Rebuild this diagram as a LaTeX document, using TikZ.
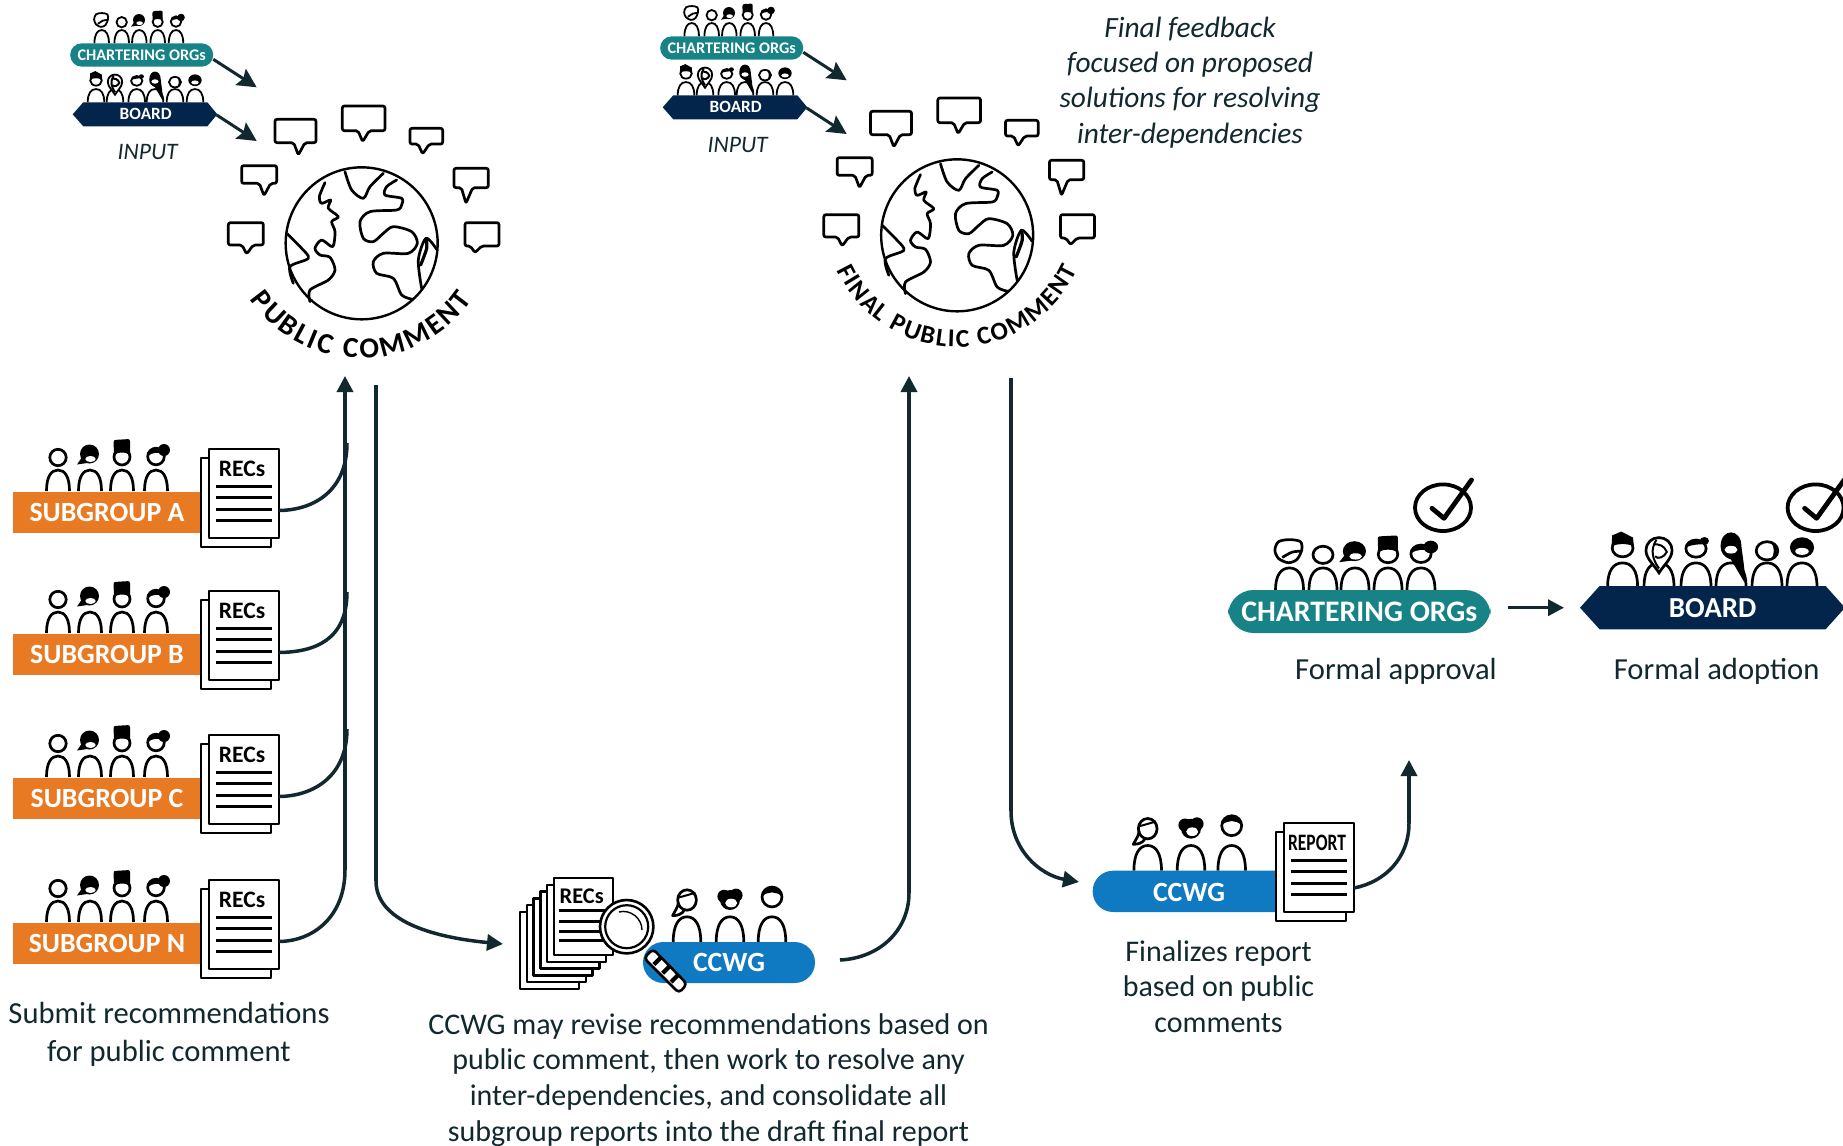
\documentclass[tikz,border=0pt]{standalone}
\usepackage{fontspec}
\usepackage{graphicx}
\setmainfont{Carlito}
\usetikzlibrary{arrows.meta,decorations.text,calc}
\definecolor{ink2}{HTML}{12282F}
\definecolor{subor}{HTML}{E87A24}
\definecolor{chart}{HTML}{178387}
\definecolor{boardc}{HTML}{03254C}
\definecolor{ccwgc}{HTML}{0F7AC1}
\tikzset{
  ink/.style={draw=black,line width=1.35pt,fill=white},
  flow/.style={draw=ink2,line width=1.75pt},
  flowar/.style={flow,-{Triangle[length=8pt,width=8pt]}},
  diag/.style={draw=ink2,line width=1.5pt,-{Stealth[length=9.5pt,width=9.5pt,inset=1.5pt]}},
  capt/.style={text=ink2,align=center,inner sep=0pt,font=\fontsize{15}{17.9}\selectfont},
  barlabel/.style={text=white,inner sep=0pt,font=\bfseries\fontsize{13.9}{15}\selectfont},
  sheet/.style={draw=black,line width=1.15pt,fill=white,line join=round},
  docrule/.style={draw=black,line width=1.5pt},
  globeline/.style={draw=black,line width=1.35pt,line cap=round,line join=round},
}
\newcommand\hplain{\draw[ink] (0,-33.5) circle (8.2);}
\newcommand\hbob{\fill (-.5,-37) circle (9.5); \fill (-5,-38) -- (-13,-26.5) -- (4,-29) -- cycle; \fill[white] (0.5,-32) ellipse [x radius=5.2,y radius=3];}
\newcommand\hhat{\draw[ink] (0,-34) circle (8); \fill[rounded corners=1pt] (-8,-36) -- (-8.5,-51) -- (8,-52) -- (8,-36) .. controls (3,-39) and (-3,-39) .. (-8,-36) -- cycle;}
\newcommand\hcurl{\draw[ink] (0,-34.5) circle (8.3); \fill (-8.3,-35) .. controls (-7,-45) and (5,-46) .. (8.3,-37) .. controls (3,-39) and (-3,-39) .. (-8.3,-35) -- cycle; \fill (8,-41) circle (6);}
\newcommand\hfluff{\draw[ink,smooth] plot[smooth cycle] coordinates {(-12,-38) (-9,-46) (0,-48) (9,-46) (10,-38) (6,-29) (-1,-26) (-9,-30)}; \draw[ink,fill=none] plot[smooth] coordinates {(-6,-31) (2,-36) (9,-37)};}
\newcommand\hoval{\draw[ink] (-10,-32) .. controls (-10,-48) and (10,-48) .. (10,-32) .. controls (10,-25) and (3,-18) .. (0,-12) .. controls (-3,-18) and (-10,-25) .. (-10,-32) -- cycle; \draw[line width=1pt] (-2,-42) .. controls (-7,-33) and (-5,-24) .. (0,-16); \draw[line width=1pt] (-4,-38) .. controls (0,-38) and (4,-37) .. (6,-31) .. controls (4,-26) and (-1,-24) .. (-3,-27);}
\newcommand\hlong{\fill (-8,-36) .. controls (-8,-53) and (8,-53) .. (8,-36) .. controls (9,-26) and (11,-14) .. (10.5,-3) .. controls (6,-12) and (3,-18) .. (0,-24) .. controls (-5,-26) and (-8,-30) .. (-8,-36) -- cycle; \fill[white] (0,-33) ellipse [x radius=5,y radius=3.5];}
\newcommand\hdark{\draw[ink] (0,-34.5) circle (8); \fill (-8.5,-36) -- (-8,-46) -- (-1,-49.5) -- (8,-44) -- (8.7,-36) .. controls (3,-39) and (-3,-39) .. (-8.5,-36) -- cycle;}
\newcommand\hhalf{\draw[ink] (0,-32) circle (8.3); \fill (3,-40) .. controls (9,-37) and (9,-27) .. (3,-24) .. controls (6,-29) and (6,-35) .. (3,-40) -- cycle;}
\newcommand\htop{\fill (0,-35) circle (9.3); \fill[white] (0,-31.5) ellipse [x radius=5.2,y radius=3.2];}
\newcommand\hcurlb{\draw[ink] (0,-34) circle (7.8); \fill (-8,-35) .. controls (-7,-43) and (5,-43) .. (8,-38) .. controls (3,-38) and (-3,-38) .. (-8,-35) -- cycle; \fill (6.5,-41) circle (3.5);}
\newcommand\hwoman{\draw[ink] (0,-35) ellipse [x radius=7.8,y radius=8.5]; \draw[ink,fill=none,line join=round] (-7,-33) .. controls (-8,-28) and (-10,-26) .. (-12,-22) .. controls (-8,-22) and (-4,-23) .. (-2,-27); \draw[line width=1pt] (-7.5,-37) .. controls (-3,-38) and (3,-40) .. (7,-41);}
\newcommand\hmess{\fill (0,-35) circle (8.3); \fill (-5,-38) circle (5.5); \fill (5,-39) circle (5.5); \fill[white] (1,-32.5) ellipse [x radius=5,y radius=3.6];}
\newcommand\hboy{\draw[ink] (0,-37.5) circle (8.3); \fill (-8.3,-38) .. controls (-7,-48.5) and (7,-48.5) .. (8.3,-38) .. controls (3,-42.5) and (-3,-42.5) .. (-8.3,-38) -- cycle;}
% x, base y, scale keys, head
\newcommand\person[4]{\begin{scope}[shift={(#1,#2)},#3]
  \draw[ink,fill=none] (-11.5,0) .. controls (-11.5,-14) and (-7,-21) .. (0,-21) .. controls (7,-21) and (11.5,-14) .. (11.5,0);
  #4
\end{scope}}
% front sheet top-left x,y, label
\newcommand\docsheet[3]{
  \draw[sheet] (#1-8,#2+9) rectangle (#1+62,#2+98);
  \draw[sheet] (#1,#2) rectangle (#1+70,#2+89);
  \node[inner sep=0pt,font=\bfseries\fontsize{11.8}{12}\selectfont] at (#1+33,#2+19.5) {#3};
  \foreach \ly in {37,48,60,71} \draw[docrule] (#1+7,#2+\ly) -- (#1+63,#2+\ly);
}
\newcommand\bubble[6]{\draw[globeline,rounded corners=1pt,fill=white] (#1,#2) -- (#3,#2) -- (#3,#4) -- (#5+20,#4) -- (#5,#6) -- (#5-14,#4) -- (#1,#4) -- cycle;}
\newcommand\globe[2]{\begin{scope}[shift={(#1,#2)},scale=0.33333]
  \bubble{685}{668}{790}{735}{740}{762}
  \bubble{725}{497}{830}{550}{792}{587}
  \bubble{825}{358}{948}{428}{895}{465}
  \bubble{1027}{318}{1155}{392}{1088}{425}
  \bubble{1230}{385}{1328}{432}{1268}{462}
  \bubble{1362}{505}{1465}{563}{1398}{610}
  \bubble{1395}{668}{1497}{738}{1425}{758}
  \draw[globeline,fill=white,line width=1.2pt] (1085,730) circle (228);
  \draw[globeline] plot[smooth] coordinates {(975,548) (958,590) (965,610) (992,600) (985,625) (1015,650) (995,665) (1005,695) (998,740) (965,720) (945,745) (960,765) (990,772) (1005,810) (985,840) (930,870) (930,905)};
  \draw[globeline] plot[smooth] coordinates {(860,700) (905,745) (925,775) (870,800) (880,850)};
  \draw[globeline] plot[smooth] coordinates {(1035,515) (1055,570) (1090,595) (1110,560) (1150,520)};
  \draw[globeline] plot[smooth] coordinates {(1190,540) (1160,560) (1155,585) (1205,595) (1205,615) (1190,630) (1110,635) (1080,665) (1090,715) (1120,725) (1150,700) (1180,680) (1235,695) (1252,730) (1225,760) (1150,760) (1120,785) (1130,820) (1180,835) (1205,885) (1238,898)};
  \draw[globeline] plot[smooth] coordinates {(1310,748) (1278,715) (1255,780) (1265,865)};
  \draw[globeline,line width=1.6pt] plot[smooth] coordinates {(1278,715) (1280,745) (1262,795)};
\end{scope}}
% small input group: offset x,y
\newcommand\inputgroup[2]{\begin{scope}[shift={(#1,#2)}]
 \begin{scope}[ink/.style={draw=black,line width=.9pt,fill=white}]
  \person{101.7}{43.3}{scale=.63}{\hfluff}\person{121.7}{43.3}{scale=.63}{\hplain}\person{139.3}{43.3}{scale=.63}{\hbob}\person{157.7}{43.3}{scale=.63}{\hhat}\person{176}{43.3}{scale=.63}{\hcurl}
  \person{96}{102.3}{xscale=.72,yscale=.63}{\hdark}\person{115}{102.3}{xscale=.72,yscale=.63}{\hoval}\person{136.7}{102.3}{xscale=.72,yscale=.63}{\hcurlb}\person{155}{102.3}{xscale=.72,yscale=.63}{\hlong}\person{175}{102.3}{xscale=.72,yscale=.63}{\hhalf}\person{195}{102.3}{xscale=.72,yscale=.63}{\htop}
 \end{scope}
 \node[fill=chart,rounded corners=5.8pt,minimum width=71.5pt,minimum height=11.7pt,inner sep=0pt,text=white,font=\bfseries\fontsize{8.1}{9}\selectfont] at (141.7,55) {CHARTERING ORGs};
 \fill[boardc] (72.7,114.3) -- (83.3,102.3) -- (207.3,102.3) -- (217.3,114.3) -- (207.3,126.3) -- (83.3,126.3) -- cycle;
 \node[text=white,inner sep=0pt,font=\bfseries\fontsize{8.6}{9}\selectfont] at (145.7,114.3) {BOARD};
 \node[text=ink2,inner sep=0pt,font=\itshape\fontsize{11.8}{13}\selectfont] at (147.7,152.3) {INPUT};
 \draw[diag] (213.3,59.3) -- (256.7,87.3);
 \draw[diag] (216.7,115) -- (256.7,141);
\end{scope}}
\newcommand\subgroup[3]{% name suffix, bar top, label
  \person{58}{#2}{scale=1}{\hplain}\person{90}{#2}{scale=1}{\hbob}\person{122}{#2}{scale=1}{\hhat}\person{156}{#2}{scale=1}{\hcurl}
  \node[fill=subor,minimum width=94.5pt,minimum height=20.5pt,inner sep=0pt,barlabel] (sub#1) at (107,#2+21) {#3};
  \docsheet{209}{#2-42}{RECs}
  \coordinate (doc#1) at (279,#2+19.5);
}
\newcommand\okmark[1]{\begin{scope}[shift={(#1,0)}]
  \draw[draw=black,line width=1.9pt] (0,507.7) ellipse [x radius=28,y radius=23.3];
  \draw[draw=black,line width=2.4pt,line cap=round,line join=round] (-11,508.3) -- (1,518.3) -- (28.5,480);
\end{scope}}
\begin{document}
\begin{tikzpicture}[x=0.5pt,y=-0.5pt]
\useasboundingbox (0,0) rectangle (1843,1146);
\clip (0,0) rectangle (1843,1146);
\fill[white] (0,0) rectangle (1843,1146);

% input groups and globes
\inputgroup{0}{0}
\inputgroup{590}{-7}
\globe{0}{0}
\globe{595.5}{-8}
\path[decorate,decoration={text along path,text align={fit to path},text={|\bfseries\fontsize{14.5}{15}\selectfont|PUBLIC COMMENT}}]
  plot[domain=145.3:34.7,samples=60] ({361+135*cos(\x)},{223+135*sin(\x)});
\path[decorate,decoration={text along path,text align={fit to path},text={|\bfseries\fontsize{12.8}{14}\selectfont|FINAL PUBLIC COMMENT}}]
  plot[domain=155.4:24.6,samples=70] ({957+132*cos(\x)},{215+132*sin(\x)});

\node[capt,font=\itshape\fontsize{14.7}{17.6}\selectfont] (note) at (1190,82.5) {Final feedback\\focused on proposed\\solutions for resolving\\inter-dependencies};

% subgroups
\subgroup{A}{491}{SUBGROUP A}
\subgroup{B}{633}{SUBGROUP B}
\subgroup{C}{777}{SUBGROUP C}
\subgroup{N}{922}{SUBGROUP N}
\node[capt,font=\fontsize{15.3}{18.8}\selectfont] (subcap) at (169,1034.5) {Submit recommendations\\for public comment};

% flows on the left
\coordinate (spinelow) at (345,870);
\coordinate (spinetip) at (345,376);
\coordinate (joinA) at (347,443);
\coordinate (joinB) at (347,592);
\coordinate (joinC) at (347,729);
\draw[flowar] (spinelow) -- (spinetip);
\draw[flow] (docA) .. controls (315,510) and (347,490) .. (joinA);
\draw[flow] (docB) .. controls (315,652) and (347,640) .. (joinB);
\draw[flow] (docC) .. controls (315,796) and (347,775) .. (joinC);
\draw[flow] (docN) .. controls (315,941) and (345,915) .. (spinelow);

% CCWG review
\coordinate (downA) at (376,385);
\coordinate (downB) at (376,881);
\coordinate (reviewIn) at (503,944);
\draw[flow] (downA) -- (downB);
\draw[flowar] (downB) .. controls (376,920) and (430,937) .. (reviewIn);
\foreach \i in {5,4,3,2,1} \draw[sheet] (554-\i*6.8,878+\i*6.8) rectangle (613-\i*6.8,955+\i*6.8);
\draw[sheet] (554,878) rectangle (613,955);
\node[inner sep=0pt,font=\bfseries\fontsize{11.2}{12}\selectfont] at (581.7,896) {RECs};
\foreach \ly in {910,921,931,940} \draw[docrule] (559,\ly) -- (605,\ly);
\person{687}{942}{scale=1.2}{\hwoman}\person{730}{942}{scale=1.2}{\hmess}\person{772}{942}{scale=1.2}{\hboy}
\node[fill=ccwgc,rounded corners=10.2pt,minimum width=86pt,minimum height=20.5pt,inner sep=0pt,barlabel] (ccwgA) at (729,962.5) {CCWG};
% magnifier
\begin{scope}
  \draw[line width=1.3pt,fill=white,rounded corners=2pt] (644,958) -- (653,949) -- (687,984) -- (679,993) -- cycle;
  \foreach \t in {0.2,0.45,0.7} \fill ($(645.5,956)!\t!(680,991)$) -- ++(7,-7) -- ++(3,3) -- ++(-7,7) -- cycle;
  \draw[draw=black,line width=1.3pt,fill=white] (626.7,926.7) circle (26.7);
  \draw[draw=black,line width=1.1pt,fill=white] (626.7,926.7) circle (21.5);
  \draw[draw=black,line width=.7pt] (619,912) .. controls (630,909) and (642,918) .. (642,930);
\end{scope}
\node[capt] (revcap) at (708.5,1080) {CCWG may revise recommendations based on\\public comment, then work to resolve any\\inter-dependencies, and consolidate all\\subgroup reports into the draft final report};
\coordinate (revOut) at (840,960);
\coordinate (upB) at (909,893);
\coordinate (upTip) at (909,376);
\draw[flow] (revOut) .. controls (880,958) and (909,930) .. (upB);
\draw[flowar] (upB) -- (upTip);

% final report
\coordinate (finA) at (1011,378);
\coordinate (finB) at (1011,811);
\coordinate (finTip) at (1079,882);
\draw[flow] (finA) -- (finB);
\draw[flowar] (finB) .. controls (1011,850) and (1040,875) .. (finTip);
\person{1147.7}{870.7}{scale=1.2}{\hwoman}\person{1191}{870.7}{scale=1.2}{\hmess}\person{1231.7}{870.7}{scale=1.2}{\hboy}
\fill[ccwgc,rounded corners=10.2pt] (1092.7,870.7) -- (1300,870.7) -- (1300,912) -- (1092.7,912) -- cycle;
\node[barlabel] (ccwgB) at (1189,892.5) {CCWG};
\docsheet{1284}{823}{\scalebox{.74}[1]{REPORT}}
\coordinate (repOut) at (1354,888);
\coordinate (repUp) at (1409,823);
\coordinate (repTip) at (1409,760);
\draw[flow] (repOut) .. controls (1385,882) and (1409,858) .. (repUp);
\draw[flowar] (repUp) -- (repTip);
\node[capt] (fincap) at (1218.5,986.5) {Finalizes report\\based on public\\comments};

% approval
\person{1289.5}{590}{xscale=1.22,yscale=1.05}{\hfluff}\person{1323}{590}{xscale=1.22,yscale=1.05}{\hplain}\person{1355}{590}{xscale=1.22,yscale=1.05}{\hbob}\person{1388}{590}{xscale=1.22,yscale=1.05}{\hhat}\person{1421}{590}{xscale=1.22,yscale=1.05}{\hcurl}
\node[fill=chart,rounded corners=12.8pt,minimum width=131.3pt,minimum height=21.5pt,inner sep=0pt,text=white,font=\bfseries\fontsize{14.9}{16}\selectfont] (chartB) at (1359.3,611.5) {CHARTERING ORGs};
\okmark{1443}
\node[capt,font=\fontsize{15.3}{17.9}\selectfont] (appcap) at (1396,671) {Formal approval};
\person{1622.6}{586}{xscale=1.3,yscale=1.1}{\hdark}\person{1659}{586}{xscale=1.3,yscale=1.1}{\hoval}\person{1696}{586}{xscale=1.3,yscale=1.1}{\hcurlb}\person{1731}{586}{xscale=1.3,yscale=1.1}{\hlong}\person{1767}{586}{xscale=1.3,yscale=1.1}{\hhalf}\person{1802}{586}{xscale=1.3,yscale=1.1}{\htop}
\fill[boardc] (1580,607.7) -- (1599.6,586) -- (1825.6,586) -- (1845,607.7) -- (1825.6,629.3) -- (1599.6,629.3) -- cycle;
\node[text=white,inner sep=0pt,font=\bfseries\fontsize{14.5}{16}\selectfont] (boardB) at (1712.6,608) {BOARD};
\okmark{1815.6}
\node[capt,font=\fontsize{15.3}{17.9}\selectfont] (adocap) at (1716.6,671) {Formal adoption};
\coordinate (apA) at (1507.5,607.7);
\coordinate (apB) at (1564,607.7);
\draw[flowar] (apA) -- (apB);
\end{tikzpicture}
\end{document}
